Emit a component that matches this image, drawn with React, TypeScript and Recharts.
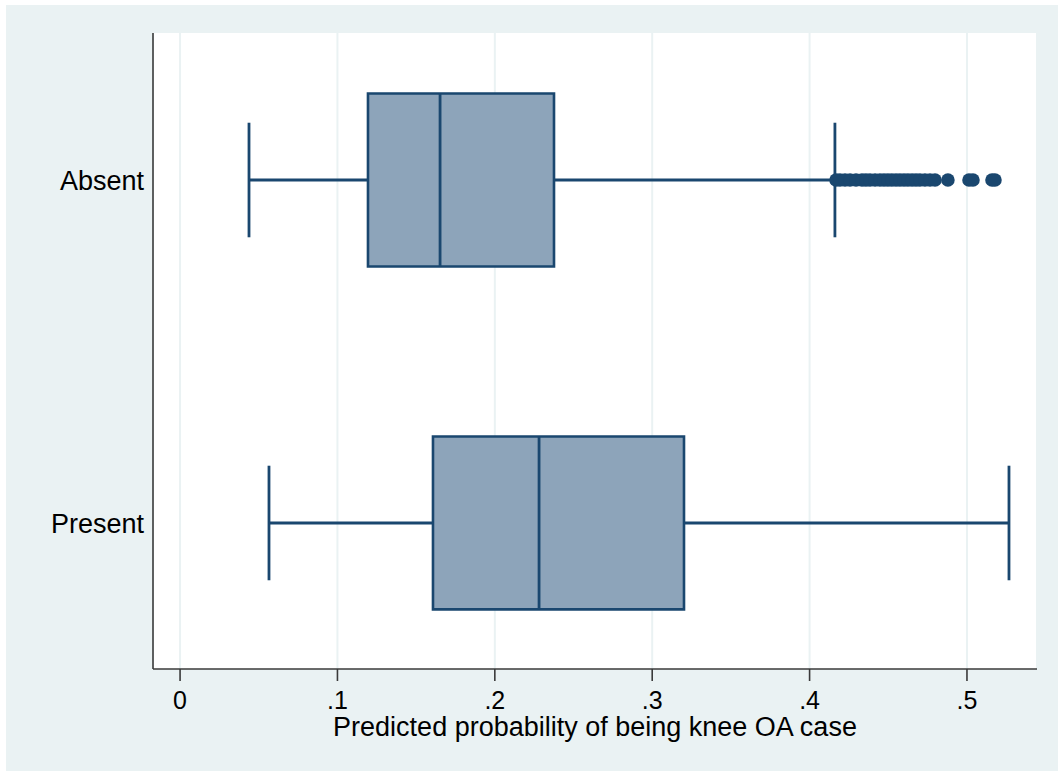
import React from 'react';
import { ScatterChart, Scatter, XAxis, YAxis, CartesianGrid, ReferenceArea, ReferenceLine } from 'recharts';

const categories = ['Absent', 'Present'];
const positions = [1, 2];
const whiskerLow = [0.0438, 0.0565];
const q1 = [0.1194, 0.1607];
const median = [0.1652, 0.2281];
const q3 = [0.2376, 0.3202];
const whiskerHigh = [0.4161, 0.5267];
const absentOutliers = [
  0.4168, 0.4193, 0.4225, 0.4257, 0.4295, 0.4333, 0.4358, 0.4384, 0.4416, 0.4447,
  0.4473, 0.4498, 0.4523, 0.4549, 0.4574, 0.46, 0.4625, 0.4651, 0.4676, 0.4701,
  0.4733, 0.4765, 0.4797, 0.4879, 0.5013, 0.5038, 0.5159, 0.5178,
];
const xTicks = [0, 0.1, 0.2, 0.3, 0.4, 0.5];
const xTickLabels = ['0', '.1', '.2', '.3', '.4', '.5'];
const xTitle = 'Predicted probability of being knee OA case';

const NAVY = '#1a476f';
const FILL = '#8da4ba';
const BG = '#eaf2f3';
const BOX_HALF = 0.252;
const CAP_HALF = 0.167;

const outlierData = absentOutliers.map((x) => ({ x, y: positions[0] }));

export default function App() {
  return (
    <div
      style={{
        position: 'absolute',
        left: 6,
        top: 5,
        width: 1052,
        height: 766,
        background: BG,
        fontFamily: '"Liberation Sans", Arial, sans-serif',
      }}
    >
      <ScatterChart width={1052} height={766} margin={{ top: 28, right: 21, left: 0, bottom: 0 }}>
        <CartesianGrid horizontal={false} vertical stroke={BG} strokeWidth={2} fill="#ffffff" fillOpacity={1} />
        <XAxis
          type="number"
          dataKey="x"
          domain={[-0.0172, 0.5445]}
          ticks={xTicks}
          allowDataOverflow
          height={102}
          tickSize={12}
          tickMargin={10}
          tickFormatter={(v: number) => xTickLabels[xTicks.indexOf(v)] ?? String(v)}
          tick={{ fill: '#000', fontSize: 25 }}
          axisLine={{ stroke: '#3a3a3a', strokeWidth: 1.6 }}
          tickLine={{ stroke: '#3a3a3a', strokeWidth: 1.6 }}
          label={{ value: xTitle, position: 'insideBottom', offset: 35, fill: '#000', fontSize: 27 }}
        />
        <YAxis
          type="number"
          dataKey="y"
          domain={[0.5714, 2.4257]}
          reversed
          ticks={positions}
          allowDataOverflow
          width={147}
          tickLine={false}
          tickSize={6}
          tickMargin={3}
          tickFormatter={(v: number) => categories[positions.indexOf(v)] ?? ''}
          tick={{ fill: '#000', fontSize: 27 }}
          axisLine={{ stroke: '#3a3a3a', strokeWidth: 1.6 }}
        />
        {positions.map((p, i) => (
          <ReferenceLine
            key={`wl${i}`}
            segment={[{ x: whiskerLow[i], y: p }, { x: q1[i], y: p }]}
            stroke={NAVY}
            strokeWidth={2.8}
          />
        ))}
        {positions.map((p, i) => (
          <ReferenceLine
            key={`wh${i}`}
            segment={[{ x: q3[i], y: p }, { x: whiskerHigh[i], y: p }]}
            stroke={NAVY}
            strokeWidth={2.8}
          />
        ))}
        {positions.map((p, i) => (
          <ReferenceLine
            key={`cl${i}`}
            segment={[{ x: whiskerLow[i], y: p - CAP_HALF }, { x: whiskerLow[i], y: p + CAP_HALF }]}
            stroke={NAVY}
            strokeWidth={2.8}
          />
        ))}
        {positions.map((p, i) => (
          <ReferenceLine
            key={`ch${i}`}
            segment={[{ x: whiskerHigh[i], y: p - CAP_HALF }, { x: whiskerHigh[i], y: p + CAP_HALF }]}
            stroke={NAVY}
            strokeWidth={2.8}
          />
        ))}
        {positions.map((p, i) => (
          <ReferenceArea
            key={`box${i}`}
            x1={q1[i]}
            x2={q3[i]}
            y1={p - BOX_HALF}
            y2={p + BOX_HALF}
            fill={FILL}
            fillOpacity={1}
            stroke={NAVY}
            strokeWidth={2.6}
          />
        ))}
        {positions.map((p, i) => (
          <ReferenceLine
            key={`med${i}`}
            segment={[{ x: median[i], y: p - BOX_HALF }, { x: median[i], y: p + BOX_HALF }]}
            stroke={NAVY}
            strokeWidth={2.8}
          />
        ))}
        <Scatter
          data={outlierData}
          isAnimationActive={false}
          fill={NAVY}
          shape={(props: any) => <circle cx={props.cx} cy={props.cy} r={6.8} fill={NAVY} />}
        />
      </ScatterChart>
    </div>
  );
}
